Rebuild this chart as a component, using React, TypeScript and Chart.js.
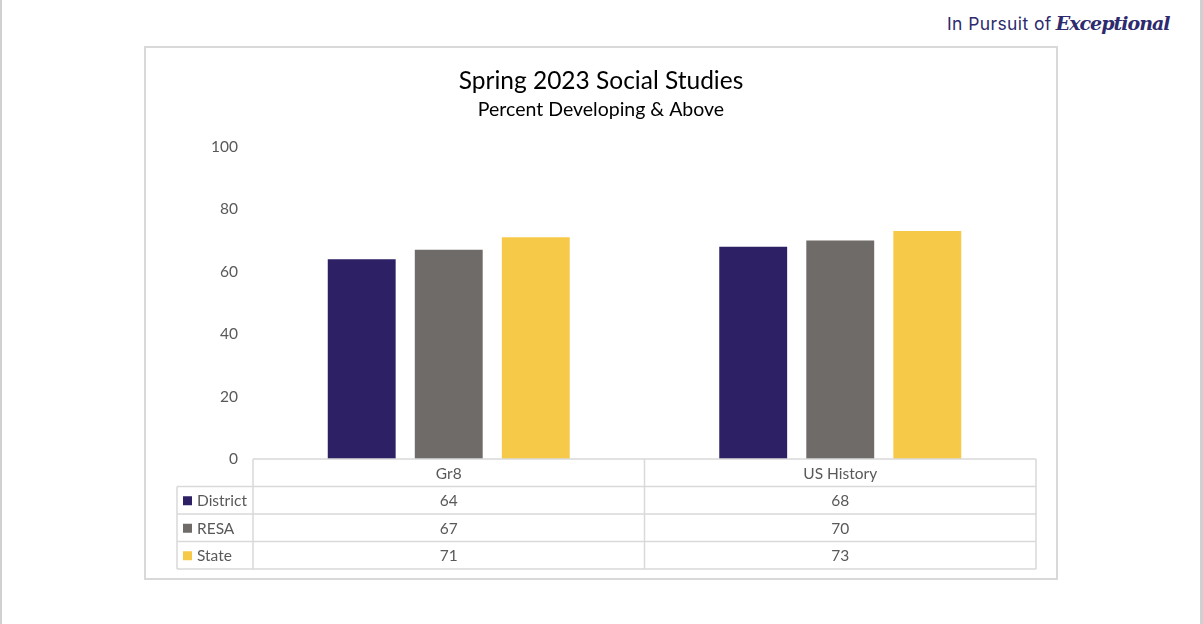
import React, { useEffect, useRef } from "react";
import { Chart, registerables } from "chart.js";

Chart.register(...registerables);

const categories = ["Gr8", "US History"];
const seriesNames = ["District", "RESA", "State"];
const districtValues = [64, 68];
const resaValues = [67, 70];
const stateValues = [71, 73];
const seriesColors = ["#2E2064", "#6F6B69", "#F7C948"];
const yTicks = [0, 20, 40, 60, 80, 100];

const FONT = "Lato, 'Noto Sans', sans-serif";
const TEXT = "#595959";
const LINE = "#D9D9D9";

const tablePlugin = {
  id: "dataTable",
  afterDraw(chart: any) {
    const ctx = chart.ctx;
    const area = chart.chartArea;
    const x = chart.scales.x;
    const half = (x.getPixelForValue(1) - x.getPixelForValue(0)) / 2;
    const rowH = 27.5;
    const top = area.bottom;
    const legendLeft = 31;
    const rows = chart.data.datasets.length;
    const bottom = top + rowH * (rows + 1);
    ctx.save();
    ctx.strokeStyle = LINE;
    ctx.lineWidth = 1.5;
    ctx.beginPath();
    ctx.moveTo(area.left, top);
    ctx.lineTo(area.right, top);
    for (let r = 1; r <= rows + 1; r++) {
      const y = top + rowH * r;
      ctx.moveTo(legendLeft, y);
      ctx.lineTo(area.right, y);
    }
    ctx.moveTo(legendLeft, top + rowH);
    ctx.lineTo(legendLeft, bottom);
    for (let i = 0; i < categories.length; i++) {
      const xl = x.getPixelForValue(i) - half;
      ctx.moveTo(xl, top);
      ctx.lineTo(xl, bottom);
    }
    const xr = x.getPixelForValue(categories.length - 1) + half;
    ctx.moveTo(xr, top);
    ctx.lineTo(xr, bottom);
    ctx.stroke();

    ctx.fillStyle = TEXT;
    ctx.font = "15.5px " + FONT;
    ctx.textBaseline = "middle";
    ctx.textAlign = "center";
    categories.forEach((c, i) => {
      ctx.fillText(c, x.getPixelForValue(i), top + rowH / 2 + 1);
    });
    chart.data.datasets.forEach((ds: any, r: number) => {
      const yc = top + rowH * (r + 1) + rowH / 2 + 1;
      ctx.fillStyle = ds.backgroundColor;
      ctx.fillRect(legendLeft + 6, yc - 5, 9, 9);
      ctx.fillStyle = TEXT;
      ctx.textAlign = "left";
      ctx.fillText(ds.label, legendLeft + 20, yc);
      ctx.textAlign = "center";
      ds.data.forEach((v: number, i: number) => {
        ctx.fillText(String(v), x.getPixelForValue(i), yc);
      });
    });
    ctx.restore();
  },
};

export default function App() {
  const ref = useRef<HTMLCanvasElement | null>(null);

  useEffect(() => {
    document.body.style.margin = "0";
    const chart = new Chart(ref.current as HTMLCanvasElement, {
      type: "bar",
      data: {
        labels: categories,
        datasets: [
          { label: seriesNames[0], data: districtValues, backgroundColor: seriesColors[0] },
          { label: seriesNames[1], data: resaValues, backgroundColor: seriesColors[1] },
          { label: seriesNames[2], data: stateValues, backgroundColor: seriesColors[2] },
        ],
      },
      options: {
        animation: false,
        responsive: false,
        maintainAspectRatio: false,
        layout: { padding: { left: 20, right: 20, top: 0, bottom: 119 } },
        datasets: { bar: { categoryPercentage: 0.667, barPercentage: 0.78 } },
        scales: {
          x: { display: false },
          y: {
            min: 0,
            max: 100,
            afterFit: (s: any) => {
              s.width = 87;
            },
            afterBuildTicks: (s: any) => {
              s.ticks = yTicks.map((v) => ({ value: v }));
            },
            grid: { display: false, drawTicks: false },
            border: { display: false },
            ticks: { padding: 15, color: TEXT, font: { family: FONT, size: 15.5 } },
          },
        },
        plugins: {
          legend: { display: false },
          tooltip: { enabled: false },
          title: {
            display: true,
            text: "Spring 2023 Social Studies",
            color: "#000000",
            font: { family: FONT, size: 24.5, weight: "normal", lineHeight: 1.2 },
            padding: { top: 18, bottom: 3 },
          },
          subtitle: {
            display: true,
            text: "Percent Developing & Above",
            color: "#000000",
            font: { family: FONT, size: 19.5, weight: "normal", lineHeight: 1.2 },
            padding: { top: 0, bottom: 25 },
          },
        },
      },
      plugins: [tablePlugin],
    } as any);
    return () => chart.destroy();
  }, []);

  return (
    <div style={{ position: "relative", width: 1203, height: 624, background: "#FFFFFF", overflow: "hidden" }}>
      <div style={{ position: "absolute", left: 0, top: 0, width: 2, height: 624, background: "#D0D0D0" }} />
      <div style={{ position: "absolute", left: 1200, top: 0, width: 3, height: 624, background: "#D0D0D0" }} />
      <div
        style={{
          position: "absolute",
          left: 947,
          top: 6,
          whiteSpace: "nowrap",
          color: "#2D2A6E",
          fontFamily: "Inter, 'Noto Sans', sans-serif",
          fontSize: 17.5,
          letterSpacing: 0.4,
          lineHeight: "34px",
        }}
      >
        In Pursuit of
        <span
          style={{
            marginLeft: 4,
            fontFamily: "'DejaVu Serif', serif",
            fontStyle: "italic",
            fontWeight: 700,
            fontSize: 19,
            letterSpacing: -1,
          }}
        >
          Exceptional
        </span>
      </div>
      <div
        style={{
          position: "absolute",
          left: 144,
          top: 46,
          width: 914,
          height: 534,
          border: "2px solid #D9D9D9",
          boxSizing: "border-box",
          background: "#FFFFFF",
        }}
      >
        <canvas ref={ref} width={910} height={530} style={{ display: "block", width: 910, height: 530 }} />
      </div>
    </div>
  );
}
